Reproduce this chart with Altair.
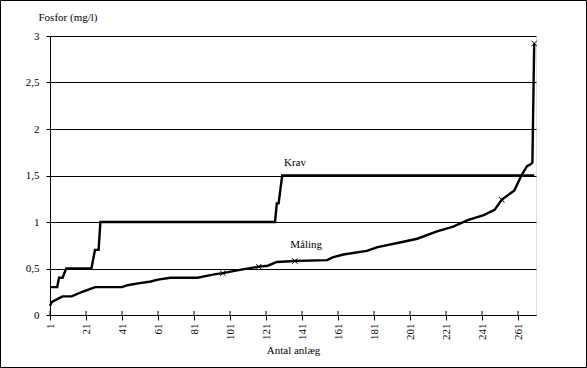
import altair as alt
import pandas as pd

# ---- data ----
krav_n = [1, 5, 6, 8, 10, 24, 26, 28, 29, 126, 127, 128, 130, 270]
krav_v = [0.3, 0.3, 0.4, 0.4, 0.5, 0.5, 0.7, 0.7, 1.0, 1.0, 1.2, 1.2, 1.5, 1.5]

maal_n = [1, 2, 4, 8, 13, 19, 26, 41, 44, 50, 57, 61, 68, 83, 88, 93, 97, 108,
          117, 122, 127, 137, 155, 158, 164, 177, 183, 198, 205, 216, 225, 233,
          242, 248, 252, 259, 263, 266, 268, 269, 270]
maal_v = [0.10, 0.14, 0.16, 0.20, 0.20, 0.25, 0.30, 0.30, 0.32, 0.34, 0.36,
          0.38, 0.40, 0.40, 0.42, 0.44, 0.45, 0.49, 0.52, 0.53, 0.57, 0.58,
          0.59, 0.62, 0.65, 0.69, 0.73, 0.79, 0.82, 0.90, 0.95, 1.02, 1.075,
          1.13, 1.24, 1.34, 1.505, 1.60, 1.62, 1.64, 2.92]

marker_n = [97, 117, 137, 252, 270]
marker_v = [0.45, 0.52, 0.58, 1.24, 2.92]

label_text = ["Krav", "Måling"]
label_n = [131, 134.5]
label_v = [1.60, 0.72]

x_ticks = [1, 21, 41, 61, 81, 101, 121, 141, 161, 181, 201, 221, 241, 261]
y_ticks = [0, 0.5, 1, 1.5, 2, 2.5, 3]

W, H = 486, 279
FONT = "'Liberation Serif', 'Times New Roman', 'DejaVu Serif', serif"

krav_df = pd.DataFrame({"n": krav_n, "v": krav_v})
maal_df = pd.DataFrame({"n": maal_n, "v": maal_v})
mark_df = pd.DataFrame({"n": marker_n, "v": marker_v})
lab_df = pd.DataFrame({"n": label_n, "v": label_v, "t": label_text})
tick_df = pd.DataFrame({"n": x_ticks})

xs = alt.Scale(domain=[1, 271], nice=False, zero=False)
ys = alt.Scale(domain=[0, 3], nice=False, zero=True)

x_axis = alt.Axis(values=x_ticks, labelAngle=-90, title="Antal anlæg", grid=False,
                  tickSize=5, tickColor="black", domainColor="black",
                  labelFont=FONT, labelFontSize=11, labelColor="black",
                  labelPadding=3, titleFont=FONT, titleFontSize=11,
                  titleFontWeight="normal", titleColor="black",
                  titleY=38, titleBaseline="alphabetic")
y_axis = alt.Axis(values=y_ticks, grid=True, gridColor="black", gridOpacity=1,
                  gridWidth=1, tickSize=4, tickColor="black", domainColor="black",
                  labelFont=FONT, labelFontSize=11, labelColor="black",
                  labelPadding=7,
                  labelExpr="replace(format(datum.value, '.1~f'), '.', ',')",
                  title="Fosfor (mg/l)", titleAngle=0, titleX=-12, titleY=-16,
                  titleAlign="left", titleBaseline="alphabetic",
                  titleFont=FONT, titleFontSize=11, titleFontWeight="normal",
                  titleColor="black")

X = alt.X("n:Q", scale=xs, axis=x_axis)
Y = alt.Y("v:Q", scale=ys, axis=y_axis)

inner_ticks = alt.Chart(tick_df).mark_rule(color="black", strokeWidth=1).encode(
    x=X, y=alt.value(H - 4), y2=alt.value(H),
)

krav = alt.Chart(krav_df).mark_line(color="black", strokeWidth=2.4).encode(x=X, y=Y)
maal = alt.Chart(maal_df).mark_line(color="black", strokeWidth=2.4).encode(x=X, y=Y)
markers = alt.Chart(mark_df).mark_point(
    shape="M-1,-1L1,1M-1,1L1,-1", size=30, filled=False,
    color="black", strokeWidth=1, opacity=1).encode(x=X, y=Y)
labels = alt.Chart(lab_df).mark_text(
    align="left", baseline="alphabetic", font=FONT, fontSize=11,
    color="black").encode(x=X, y=Y, text="t:N")

frame = alt.Chart(pd.DataFrame({"a": [0]})).mark_rect(
    fillOpacity=0, stroke="black", strokeWidth=1).encode(
    x=alt.value(-49.5), x2=alt.value(W + 50.5),
    y=alt.value(-35.5), y2=alt.value(H + 52.5),
)

chart = alt.layer(krav, maal, inner_ticks, markers, labels, frame).properties(
    width=W, height=H,
    autosize=alt.AutoSizeParams(type="none"),
    padding={"left": 50, "top": 36, "right": 51, "bottom": 53},
    background="white",
).configure_view(stroke=None).configure(font=FONT)

chart.save("out.html", embed_options={"renderer": "svg", "actions": False})
